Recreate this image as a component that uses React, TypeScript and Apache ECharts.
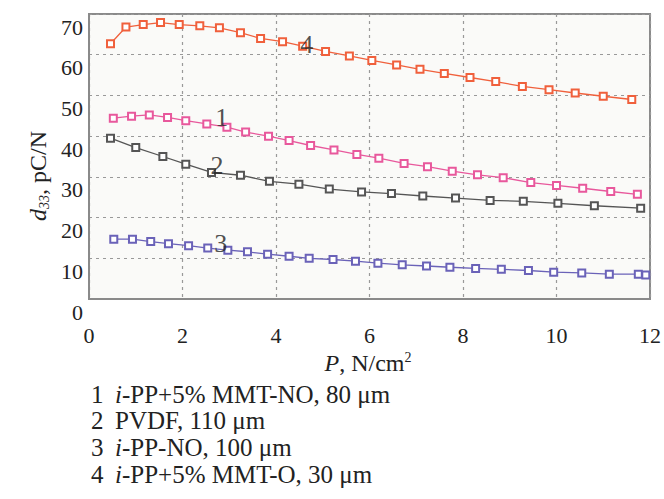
import React, { useEffect, useRef } from "react";
import * as echarts from "echarts";

// Curve 1: i-PP+5% MMT-NO, 80 µm
const curve1: [number, number][] = [
  [0.52, 44.4], [0.91, 44.9], [1.29, 45.2], [1.68, 44.6], [2.07, 43.8], [2.52, 43.0],
  [2.95, 42.2], [3.35, 41.0], [3.84, 40.0], [4.28, 38.9], [4.74, 37.7], [5.24, 36.6],
  [5.73, 35.5], [6.2, 34.6], [6.74, 33.3], [7.24, 32.5], [7.77, 31.4], [8.31, 30.5],
  [8.86, 29.8], [9.45, 28.6], [10.0, 27.9], [10.56, 27.2], [11.16, 26.4], [11.73, 25.7],
];
// Curve 2: PVDF, 110 µm
const curve2: [number, number][] = [
  [0.46, 39.5], [1.0, 37.2], [1.58, 35.0], [2.07, 33.1], [2.62, 31.1], [3.24, 30.4],
  [3.86, 28.9], [4.49, 28.2], [5.14, 27.0], [5.83, 26.3], [6.47, 25.9], [7.14, 25.3],
  [7.84, 24.8], [8.58, 24.2], [9.29, 24.0], [10.03, 23.5], [10.81, 22.9], [11.8, 22.3],
];
// Curve 3: i-PP-NO, 100 µm
const curve3: [number, number][] = [
  [0.53, 14.7], [0.93, 14.7], [1.32, 14.1], [1.7, 13.6], [2.13, 13.1], [2.54, 12.5],
  [2.97, 12.0], [3.39, 11.6], [3.82, 11.0], [4.28, 10.5], [4.71, 10.0], [5.22, 9.7],
  [5.7, 9.3], [6.18, 8.8], [6.7, 8.4], [7.22, 8.1], [7.72, 7.8], [8.27, 7.5],
  [8.82, 7.3], [9.4, 7.0], [9.94, 6.6], [10.54, 6.4], [11.13, 6.1], [11.75, 6.1], [11.91, 5.9],
];
// Curve 4: i-PP+5% MMT-O, 30 µm
const curve4: [number, number][] = [
  [0.46, 62.7], [0.79, 66.8], [1.16, 67.4], [1.53, 67.9], [1.93, 67.4], [2.37, 67.1],
  [2.79, 66.6], [3.24, 65.4], [3.67, 64.0], [4.14, 63.2], [4.57, 62.1], [5.06, 60.8],
  [5.57, 59.7], [6.05, 58.6], [6.58, 57.5], [7.08, 56.4], [7.6, 55.4], [8.15, 54.4],
  [8.7, 53.4], [9.27, 52.2], [9.84, 51.4], [10.4, 50.6], [11.0, 49.8], [11.61, 49.0],
];

// In-plot curve numbers and their positions (data units)
const curveNames = ["1", "2", "3", "4"];
const curveNameX = [2.84, 2.74, 2.82, 4.66];
const curveNameY = [44.5, 32.7, 13.6, 62.6];

// Legend text below the chart
const legendNums = ["1", "2", "3", "4"];
const legendItalic = ["i", "", "i", "i"];
const legendRest = ["-PP+5% MMT-NO, 80 μm", "PVDF, 110 μm", "-PP-NO, 100 μm", "-PP+5% MMT-O, 30 μm"];

const colors = ["#e8589c", "#555555", "#6a62b8", "#f0603c"];
const FONT = "'Liberation Serif', 'DejaVu Serif', serif";

export default function App() {
  const ref = useRef<HTMLDivElement>(null);
  useEffect(() => {
    if (!ref.current) return;
    const chart = echarts.init(ref.current, null, { renderer: "svg" });
    const curves = [curve1, curve2, curve3, curve4];
    const lineSeries = curves.map((c, i) => ({
      type: "line" as const,
      data: c,
      symbol: "emptyRect",
      symbolSize: 7,
      showSymbol: true,
      clip: false,
      lineStyle: { color: colors[i], width: 1.3 },
      itemStyle: { color: colors[i], borderColor: colors[i], borderWidth: 1.5 },
      z: 3,
    }));
    const labelSeries = {
      type: "scatter" as const,
      symbolSize: 0,
      data: curveNames.map((n, i) => [curveNameX[i], curveNameY[i], n]),
      label: {
        show: true,
        position: "inside",
        formatter: (p: any) => p.value[2],
        fontFamily: FONT,
        fontSize: 26,
        color: "#222",
      },
      z: 5,
    };
    const legendGraphics: any[] = [];
    legendNums.forEach((n, i) => {
      const y = 394 + i * 26.8;
      legendGraphics.push({
        type: "text",
        x: 91,
        y,
        style: { text: n, fontFamily: FONT, fontSize: 25, fill: "#222", verticalAlign: "middle" },
      });
      legendGraphics.push({
        type: "text",
        x: 115,
        y,
        style: {
          text: (legendItalic[i] ? `{i|${legendItalic[i]}}` : "") + `{t|${legendRest[i]}}`,
          verticalAlign: "middle",
          rich: {
            i: { fontFamily: FONT, fontSize: 25, fontStyle: "italic", fill: "#222" },
            t: { fontFamily: FONT, fontSize: 25, fill: "#222" },
          },
        },
      });
    });
    chart.setOption({
      animation: false,
      backgroundColor: "#ffffff",
      grid: {
        left: 89,
        right: 14,
        top: 14,
        bottom: 200,
        show: true,
        backgroundColor: "#fafaf8",
        borderColor: "#8a8a8a",
        borderWidth: 2,
      },
      xAxis: {
        type: "value",
        min: 0,
        max: 12,
        interval: 2,
        axisLine: { show: true, lineStyle: { color: "#8a8a8a", width: 2 } },
        axisTick: { show: false },
        axisLabel: { fontFamily: FONT, fontSize: 22, color: "#222", margin: 25 },
        splitLine: { show: true, lineStyle: { color: "#999", type: [3, 4], width: 1.2 } },
      },
      yAxis: {
        type: "value",
        min: 0,
        max: 70,
        interval: 10,
        axisLine: { show: true, lineStyle: { color: "#8a8a8a", width: 2 } },
        axisTick: { show: false },
        axisLabel: {
          fontFamily: FONT,
          fontSize: 22,
          color: "#222",
          margin: 6,
          verticalAlign: "top",
          padding: [2, 0, 0, 0],
        },
        splitLine: { show: true, lineStyle: { color: "#999", type: [3, 4], width: 1.2 } },
      },
      series: [...lineSeries, labelSeries],
      graphic: [
        {
          type: "text",
          x: 38,
          y: 176,
          rotation: Math.PI / 2,
          style: {
            text: "{i|d}{s|33}{t|, pC/N}",
            align: "center",
            verticalAlign: "middle",
            rich: {
              i: { fontFamily: FONT, fontSize: 24, fontStyle: "italic", fill: "#222", lineHeight: 26 },
              s: { fontFamily: FONT, fontSize: 14, fontStyle: "italic", fill: "#222", verticalAlign: "bottom", lineHeight: 26 },
              t: { fontFamily: FONT, fontSize: 24, fill: "#222", lineHeight: 26 },
            },
          },
        },
        {
          type: "text",
          x: 368,
          y: 363,
          style: {
            text: "{i|P}{t|, N/cm}{s|2}",
            align: "center",
            verticalAlign: "middle",
            rich: {
              i: { fontFamily: FONT, fontSize: 24, fontStyle: "italic", fill: "#222", lineHeight: 26 },
              t: { fontFamily: FONT, fontSize: 24, fill: "#222", lineHeight: 26 },
              s: { fontFamily: FONT, fontSize: 14, fill: "#222", verticalAlign: "top", lineHeight: 26 },
            },
          },
        },
        ...legendGraphics,
      ],
    });
    return () => chart.dispose();
  }, []);
  return <div ref={ref} style={{ position: "absolute", left: 0, top: 0, width: 664, height: 499 }} />;
}
